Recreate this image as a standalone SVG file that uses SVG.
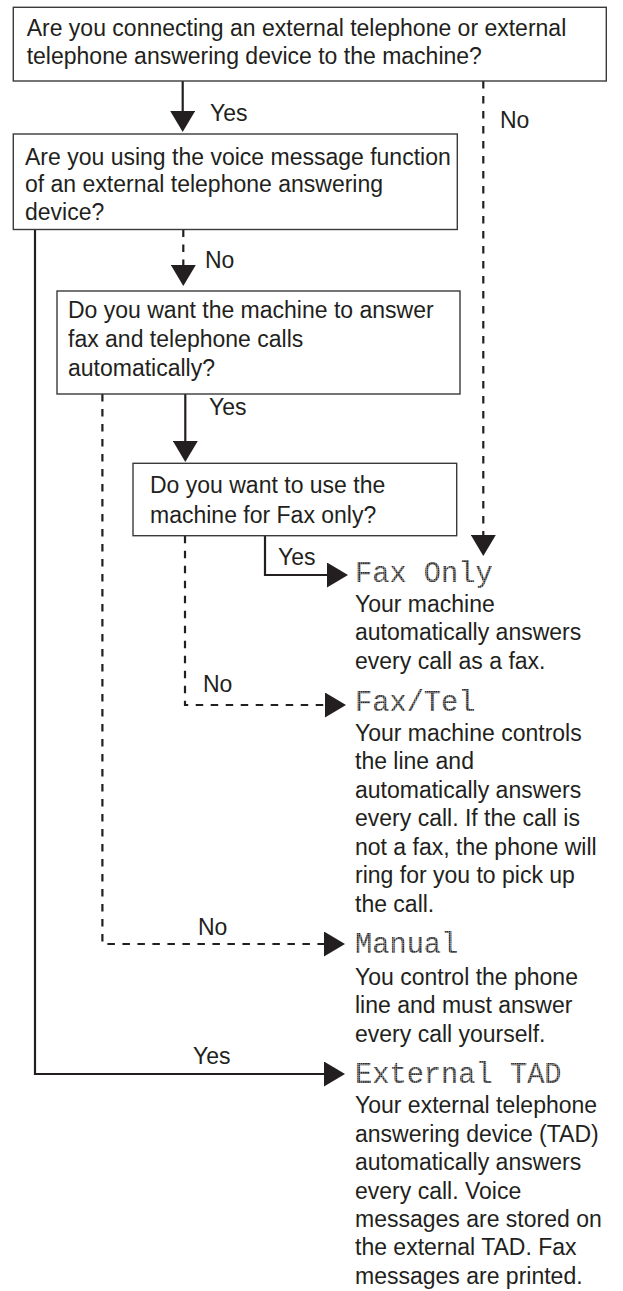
<svg xmlns="http://www.w3.org/2000/svg" width="623" height="1291" viewBox="0 0 623 1291">
<style>
  .box{fill:#fff;stroke:#3a3a3a;stroke-width:1.4}
  .t{font-family:"Liberation Sans",Arial,Helvetica,sans-serif;font-size:23px;fill:#231f20}
  .lcd{font-family:"Liberation Mono","Courier New",monospace;font-size:28.7px;fill:url(#dots)}
  .solid{fill:none;stroke:#231f20;stroke-width:2.2}
  .dash{fill:none;stroke:#231f20;stroke-width:2.2;stroke-dasharray:7.5 7.5}
</style>
<defs>
  <pattern id="dots" width="2.2" height="2.2" patternUnits="userSpaceOnUse">
    <rect width="2.2" height="2.2" fill="#9a9a9a"/>
    <rect width="1.6" height="1.6" fill="#2a2a2a"/>
  </pattern>
  <marker id="ah" viewBox="0 0 21 25" refX="1" refY="12.5" markerWidth="21" markerHeight="25" markerUnits="userSpaceOnUse" orient="auto">
    <path d="M0,0 L21,12.5 L0,25 Z" fill="#231f20"/>
  </marker>
</defs>
<rect width="623" height="1291" fill="#fff"/>

<g id="connectors">
  <path class="solid" d="M182.7,81 V112" marker-end="url(#ah)"/>
  <path class="dash" d="M483.3,81 V536" marker-end="url(#ah)"/>
  <path class="dash" d="M183.3,229.5 V266" marker-end="url(#ah)"/>
  <path class="solid" d="M35,229.5 V1074 H325" marker-end="url(#ah)"/>
  <path class="solid" d="M185.3,394 V442" marker-end="url(#ah)"/>
  <path class="dash" d="M102.4,394 V944 H325" marker-end="url(#ah)"/>
  <path class="solid" d="M265,535.7 V575 H328" marker-end="url(#ah)"/>
  <path class="dash" d="M185,535.7 V705 H326" marker-end="url(#ah)"/>
  <text class="t" x="210" y="121">Yes</text>
  <text class="t" x="500" y="128">No</text>
  <text class="t" x="205" y="268">No</text>
  <text class="t" x="209" y="415">Yes</text>
  <text class="t" x="278" y="565">Yes</text>
  <text class="t" x="203" y="692">No</text>
  <text class="t" x="198" y="935">No</text>
  <text class="t" x="193" y="1064">Yes</text>
</g>

<g id="q1">
  <rect class="box" x="13.3" y="7.3" width="593" height="73.7"/>
  <text class="t" x="26.7" y="36">Are you connecting an external telephone or external</text>
  <text class="t" x="26.7" y="64">telephone answering device to the machine?</text>
</g>

<g id="q2">
  <rect class="box" x="13.3" y="134" width="444" height="95.5"/>
  <text class="t" x="25" y="164.5">Are you using the voice message function</text>
  <text class="t" x="25" y="192.3">of an external telephone answering</text>
  <text class="t" x="25" y="220">device?</text>
</g>

<g id="q3">
  <rect class="box" x="57" y="291" width="403" height="103"/>
  <text class="t" x="68" y="318.3">Do you want the machine to answer</text>
  <text class="t" x="68" y="347.3">fax and telephone calls</text>
  <text class="t" x="68" y="376">automatically?</text>
</g>

<g id="q4">
  <rect class="box" x="133" y="463.3" width="323.7" height="72.4"/>
  <text class="t" x="150" y="493.3">Do you want to use the</text>
  <text class="t" x="150" y="523.3">machine for Fax only?</text>
</g>

<g id="fax-only">
  <text class="lcd" x="355" y="581.7">Fax Only</text>
  <text class="t" x="355" y="611.7">Your machine</text>
  <text class="t" x="355" y="640">automatically answers</text>
  <text class="t" x="355" y="668.5">every call as a fax.</text>
</g>

<g id="fax-tel">
  <text class="lcd" x="355" y="710.7">Fax/Tel</text>
  <text class="t" x="355" y="740.5">Your machine controls</text>
  <text class="t" x="355" y="769">the line and</text>
  <text class="t" x="355" y="797.5">automatically answers</text>
  <text class="t" x="355" y="826">every call. If the call is</text>
  <text class="t" x="355" y="854.5">not a fax, the phone will</text>
  <text class="t" x="355" y="883">ring for you to pick up</text>
  <text class="t" x="355" y="911.5">the call.</text>
</g>

<g id="manual">
  <text class="lcd" x="355" y="953">Manual</text>
  <text class="t" x="355" y="985">You control the phone</text>
  <text class="t" x="355" y="1013.3">line and must answer</text>
  <text class="t" x="355" y="1041.7">every call yourself.</text>
</g>

<g id="external-tad">
  <text class="lcd" x="355" y="1082.7">External TAD</text>
  <text class="t" x="355" y="1113.3">Your external telephone</text>
  <text class="t" x="355" y="1141.7">answering device (TAD)</text>
  <text class="t" x="355" y="1170">automatically answers</text>
  <text class="t" x="355" y="1198.5">every call. Voice</text>
  <text class="t" x="355" y="1226.8">messages are stored on</text>
  <text class="t" x="355" y="1255.2">the external TAD. Fax</text>
  <text class="t" x="355" y="1283.5">messages are printed.</text>
</g>
</svg>
